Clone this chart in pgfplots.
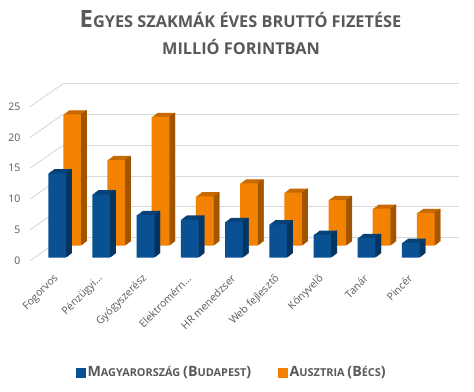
\documentclass[border=0pt]{standalone}
\usepackage{fontspec}
\setmainfont{Open Sans}
\usepackage{pgfplots}
\usepackage{pgfplotstable}
\pgfplotsset{compat=1.18}
\definecolor{hublue}{HTML}{0A5194}
\definecolor{hubluetop}{HTML}{074177}
\definecolor{hubluedk}{HTML}{05345F}
\definecolor{atorange}{HTML}{F28200}
\definecolor{atorangetop}{HTML}{C86A00}
\definecolor{atorangedk}{HTML}{A05400}
\definecolor{gridc}{HTML}{D9D9D9}
\definecolor{txt}{HTML}{595959}
\newcommand{\tbig}{\fontsize{23.8bp}{27bp}\selectfont}
\newcommand{\tsm}{\fontsize{16.3bp}{19bp}\selectfont}
\newcommand{\lbig}{\fontsize{14.2bp}{17bp}\selectfont}
\newcommand{\lsm}{\fontsize{10.9bp}{13bp}\selectfont}
\pgfplotstableread{
x hu at
0 13.7 21.3
1 10.3 13.9
2 6.9 20.9
3 6.2 8.0
4 5.8 10.1
5 5.4 8.6
6 3.7 7.4
7 3.2 6.0
8 2.4 5.3
}\data
\begin{document}
\begin{tikzpicture}
\path[use as bounding box, fill=white] (0,0) rectangle (474bp,392bp);
% title
\node[anchor=base, text=txt, font=\bfseries, inner sep=0pt] at (240.5bp,364.7bp) {{\tbig E}{\tsm GYES SZAKMÁK ÉVES BRUTTÓ FIZETÉSE}};
\node[anchor=base, text=txt, font=\bfseries, inner sep=0pt] at (241bp,337bp) {{\tsm MILLIÓ FORINTBAN}};
% back wall grid
\begin{axis}[at={(63bp,154.3bp)}, anchor=south west, scale only axis,
  width=395.7bp, height=154bp, xmin=0, xmax=1, ymin=0, ymax=25,
  ytick={0,5,...,25}, yticklabels={}, xtick=\empty, ymajorgrids,
  grid style={gridc, line width=0.9bp}, axis line style={draw=none},
  major tick length=0pt]
\end{axis}
% front plane
\begin{axis}[at={(30bp,131.3bp)}, anchor=south west, x=44.2bp, y=6.16bp,
  xmin=-0.518, xmax=8.6, ymin=0, ymax=25, clip=false,
  axis line style={draw=none}, major tick length=0pt,
  ytick={0,5,...,25}, xtick={0,...,8},
  xticklabels={Fogorvos, Pénzügyi…, Gyógyszerész, Elektromérn…, HR menedzser, Web fejlesztő, Könyvelő, Tanár, Pincér},
  tick label style={font=\fontsize{10.5bp}{12bp}\selectfont, text=txt},
  /pgf/number format/assume math mode=true,
  yticklabel style={anchor=east, inner sep=0pt, xshift=-9.5bp},
  xticklabel style={inner sep=0pt, xshift=3.9bp, yshift=-16.1bp, rotate=45, anchor=east},
  legend style={at={(0.501,-0.726)}, anchor=center, draw=none, fill=none,
    legend columns=2, font=\bfseries, text=txt,
    /tikz/every even column/.append style={column sep=25bp},
    nodes={inner sep=2bp}},
  legend cell align=left]
\pgfplotsinvokeforeach{0,5,10,15,20,25}{
  \draw[gridc, line width=0.9bp] (axis cs:-0.518,#1) -- ([shift={(33bp,23bp)}]axis cs:-0.518,#1);
}
% orange: top face (full copies), side face (thin strips), front face
\pgfplotsinvokeforeach{1,...,6}{
  \addplot[ybar, bar shift=0pt, bar width=17.7bp, fill=atorangetop, draw=none, forget plot,
    xshift={19.25bp+#1*0.95bp}, yshift={15bp+#1*0.7bp}] table[x=x,y=at]{\data};
}
\pgfplotsinvokeforeach{1,...,6}{
  \addplot[ybar, bar shift=0pt, bar width=1.15bp, fill=atorangedk, draw=none, forget plot,
    xshift={19.25bp+8.85bp+(#1-0.5)*0.95bp}, yshift={15bp+#1*0.7bp}] table[x=x,y=at]{\data};
}
\addplot[ybar, bar shift=0pt, bar width=17.7bp, fill=atorange, draw=none, forget plot,
  xshift=19.25bp, yshift=15bp] table[x=x,y=at]{\data};
% blue
\pgfplotsinvokeforeach{1,...,6}{
  \addplot[ybar, bar shift=0pt, bar width=17.7bp, fill=hubluetop, draw=none, forget plot,
    xshift={4.25bp+#1*0.95bp}, yshift={3bp+#1*0.7bp}] table[x=x,y=hu]{\data};
}
\pgfplotsinvokeforeach{1,...,6}{
  \addplot[ybar, bar shift=0pt, bar width=1.15bp, fill=hubluedk, draw=none, forget plot,
    xshift={4.25bp+8.85bp+(#1-0.5)*0.95bp}, yshift={3bp+#1*0.7bp}] table[x=x,y=hu]{\data};
}
\addplot[ybar, bar shift=0pt, bar width=17.7bp, fill=hublue, draw=none, forget plot,
  xshift=4.25bp, yshift=3bp] table[x=x,y=hu]{\data};
\addlegendimage{legend image code/.code={\fill[hublue] (0bp,-4.5bp) rectangle (9bp,4.5bp);}}
\addlegendentry{{\lbig M}{\lsm AGYARORSZÁG }{\lbig (B}{\lsm UDAPEST}{\lbig )}}
\addlegendimage{legend image code/.code={\fill[atorange] (0bp,-4.5bp) rectangle (9bp,4.5bp);}}
\addlegendentry{{\lbig A}{\lsm USZTRIA }{\lbig (B}{\lsm ÉCS}{\lbig )}}
\end{axis}
\end{tikzpicture}
\end{document}
